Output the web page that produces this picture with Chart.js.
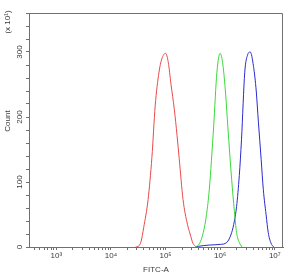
<!DOCTYPE html>
<html>
<head>
<meta charset="utf-8">
<script src="https://cdn.jsdelivr.net/npm/chart.js@4/dist/chart.umd.min.js"></script>
<style>
  html, body { margin: 0; padding: 0; background: #fff; }
  #c { display: block; }
</style>
</head>
<body>
<canvas id="c" width="290" height="275"></canvas>
<script>
  // x values are log10(FITC-A), y values are counts (x 10^1)
  const redX   = [4.45, 4.50, 4.55, 4.60, 4.68, 4.75, 4.81, 4.88, 4.93, 5.00, 5.05, 5.10, 5.16, 5.21, 5.25, 5.32, 5.40, 5.45, 5.50, 5.56];
  const redY   = [0, 1, 8, 30, 73, 138, 217, 269, 289, 298, 284, 250, 212, 172, 136, 73, 35, 20, 6, 0];

  const greenX = [5.55, 5.62, 5.69, 5.75, 5.80, 5.88, 5.94, 6.00, 6.05, 6.10, 6.14, 6.21, 6.26, 6.30, 6.35, 6.40];
  const greenY = [0, 5, 22, 50, 88, 185, 269, 298, 280, 235, 185, 104, 55, 22, 7, 0];

  const blueX  = [5.55, 5.60, 5.80, 6.00, 6.12, 6.21, 6.26, 6.30, 6.35, 6.39, 6.45, 6.50, 6.55, 6.61, 6.66, 6.70, 6.75, 6.79, 6.84, 6.88, 6.93, 6.98];
  const blueY  = [0, 1, 3, 4, 7, 22, 40, 62, 110, 165, 269, 295, 300, 278, 240, 192, 135, 88, 50, 22, 6, 0];

  const decades = [3, 4, 5, 6, 7];
  const decadeLabels = ['10³', '10⁴', '10⁵', '10⁶', '10⁷'];
  const xMin = 2.5, xMax = 7.15;
  const yMin = 0, yMax = 360, yStep = 20;

  const pts = (xs, ys) => xs.map((x, i) => ({ x: x, y: ys[i] }));

  const xTicks = [];
  for (let n = 2; n <= 7; n++) {
    for (let k = 1; k <= 9; k++) {
      const v = n + Math.log10(k);
      if (v >= xMin && v <= xMax) xTicks.push(v);
    }
  }

  const axisColor = '#707070';
  const textColor = '#3a3a3a';
  const font = { family: 'Liberation Sans, Arial, sans-serif', size: 8 };

  const framePlugin = {
    id: 'frame',
    afterDraw(chart) {
      const { ctx, chartArea: a } = chart;
      ctx.save();
      ctx.strokeStyle = axisColor;
      ctx.lineWidth = 1;
      ctx.beginPath();
      ctx.moveTo(a.left, a.top + 0.5);
      ctx.lineTo(a.right - 0.5, a.top + 0.5);
      ctx.lineTo(a.right - 0.5, a.bottom);
      ctx.stroke();

      ctx.fillStyle = textColor;
      ctx.font = '8px "Liberation Sans", Arial, sans-serif';
      ctx.textAlign = 'center';
      ctx.textBaseline = 'middle';
      ctx.translate(8, 121);
      ctx.rotate(-Math.PI / 2);
      ctx.fillText('Count', 0, 0);
      ctx.restore();

      ctx.save();
      ctx.fillStyle = textColor;
      ctx.font = '8px "Liberation Sans", Arial, sans-serif';
      ctx.textAlign = 'center';
      ctx.textBaseline = 'middle';
      ctx.translate(8, 22);
      ctx.rotate(-Math.PI / 2);
      ctx.fillText('(x 10¹)', 0, 0);
      ctx.restore();
    }
  };

  const line = (data, color) => ({
    data: data,
    borderColor: color,
    borderWidth: 1,
    pointRadius: 0,
    fill: false,
    cubicInterpolationMode: 'monotone'
  });

  new Chart(document.getElementById('c'), {
    type: 'line',
    data: {
      datasets: [
        line(pts(redX, redY), '#e84a4a'),
        line(pts(greenX, greenY), '#3ad83a'),
        line(pts(blueX, blueY), '#2a2ad0')
      ]
    },
    options: {
      responsive: false,
      animation: false,
      devicePixelRatio: 1,
      layout: { padding: { left: 0, top: 13, right: 7, bottom: 0 } },
      plugins: { legend: { display: false }, tooltip: { enabled: false } },
      scales: {
        x: {
          type: 'linear',
          min: xMin, max: xMax,
          afterBuildTicks: s => { s.ticks = xTicks.map(v => ({ value: v })); },
          afterFit: s => { s.height = 28; },
          grid: { drawOnChartArea: false, tickLength: 3, color: axisColor },
          border: { color: axisColor, width: 1 },
          ticks: {
            autoSkip: false, maxRotation: 0, padding: 1,
            color: textColor, font: font,
            callback: v => {
              const i = decades.findIndex(d => Math.abs(d - v) < 1e-6);
              return i >= 0 ? decadeLabels[i] : '';
            }
          },
          title: { display: true, text: 'FITC-A', color: textColor, font: font, padding: { top: 0, bottom: 0 } }
        },
        y: {
          min: yMin, max: yMax,
          afterFit: s => { s.width = 29; },
          grid: { drawOnChartArea: false, tickLength: 3, color: axisColor },
          border: { color: axisColor, width: 1 },
          ticks: {
            stepSize: yStep, autoSkip: false,
            minRotation: 90, maxRotation: 90, crossAlign: 'center', padding: 0,
            color: textColor, font: font,
            callback: v => (v % 100 === 0 && v < yMax ? String(v) : '')
          }
        }
      }
    },
    plugins: [framePlugin]
  });
</script>
</body>
</html>
